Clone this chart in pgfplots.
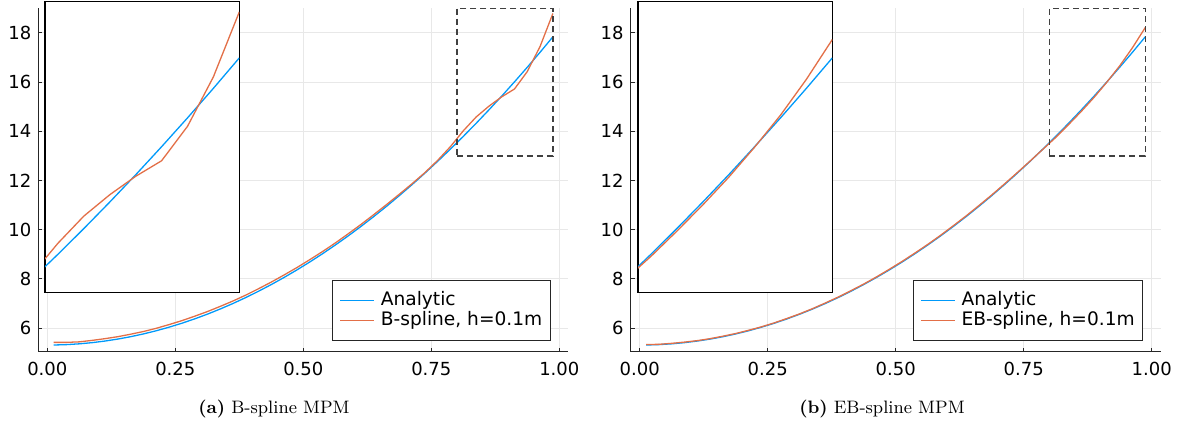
\documentclass[border=0pt]{standalone}
\usepackage{fontspec}
\usepackage{pgfplots}
\usepackage{pgfplotstable}
\pgfplotsset{compat=1.18}
\newfontfamily\dejavu{DejaVu Sans}
\definecolor{cblue}{RGB}{0,154,250}
\definecolor{corange}{RGB}{227,111,71}

\pgfplotstableread{
x ana bsp ebsp
0.0125 5.312 5.42 5.33
0.0375 5.328 5.42 5.34
0.0625 5.360 5.44 5.38
0.0875 5.408 5.50 5.43
0.1125 5.473 5.57 5.49
0.1375 5.553 5.65 5.57
0.1625 5.649 5.75 5.67
0.1875 5.762 5.86 5.78
0.2125 5.890 5.99 5.91
0.2375 6.035 6.14 6.05
0.2625 6.195 6.30 6.21
0.2875 6.372 6.48 6.39
0.3125 6.565 6.67 6.58
0.3375 6.774 6.88 6.79
0.3625 6.999 7.10 7.02
0.3875 7.240 7.34 7.26
0.4125 7.497 7.60 7.52
0.4375 7.770 7.87 7.79
0.4625 8.059 8.16 8.08
0.4875 8.364 8.46 8.39
0.5125 8.685 8.78 8.71
0.5375 9.022 9.11 9.05
0.5625 9.376 9.46 9.40
0.5875 9.745 9.83 9.77
0.6125 10.131 10.21 10.16
0.6375 10.532 10.61 10.56
0.6625 10.950 11.02 10.98
0.6875 11.384 11.44 11.41
0.7125 11.833 11.87 11.86
0.7375 12.299 12.32 12.32
0.7625 12.781 12.82 12.79
0.7875 13.279 13.38 13.27
0.8125 13.793 14.02 13.75
0.8375 14.323 14.58 14.27
0.8625 14.869 15.02 14.81
0.8875 15.431 15.40 15.38
0.9125 16.010 15.72 16.00
0.9375 16.604 16.43 16.66
0.9625 17.214 17.45 17.40
0.9875 17.841 18.79 18.22
}\data

\pgfplotsset{
  mainax/.style={
    scale only axis, width=265pt, height=171.7pt,
    xmin=-0.0176, xmax=1.0176, ymin=5.04, ymax=19.0,
    axis lines=left, axis line style={-, line width=0.5pt, black!85},
    xtick={0,0.25,0.5,0.75,1}, xticklabels={0.00,0.25,0.50,0.75,1.00},
    ytick={6,8,10,12,14,16,18}, yticklabels={6,8,10,12,14,16,18},
    tick align=inside, major tick length=2pt,
    tick style={black!85, line width=0.5pt},
    grid=major, major grid style={black!9, line width=0.5pt},
    ticklabel style={font=\dejavu\fontsize{9}{10}\selectfont},
    xticklabel style={yshift=-1.5pt},
    legend style={at={(0.967,0.031)}, anchor=south east, draw=black!85,
      line width=0.5pt, fill=white,
      font=\dejavu\fontsize{9.3}{10}\selectfont,
      inner xsep=3.5pt, inner ysep=5pt,
      nodes={inner sep=0.5pt, text height=7pt, text depth=2pt},
      /tikz/every odd column/.append style={column sep=2.5pt}},
    legend cell align=left,
    legend image code/.code={\draw[#1, line width=0.65pt] (0pt,0pt) -- (17pt,0pt);},
  },
  insetax/.style={
    scale only axis, width=97.15pt, height=145.5pt,
    xmin=0.8, xmax=0.9875, ymin=13, ymax=19,
    ticks=none, axis line style={black, line width=0.6pt},
    axis background/.style={fill=white},
  },
  rectst/.style={black!75, line width=0.7pt, dash pattern=on 3pt off 2pt, forget plot},
}

\begin{document}
\begin{tikzpicture}
\useasboundingbox (0,0) rectangle (591.5pt,215pt);

% ---- left main
\begin{axis}[mainax, at={(19.15pt,39.15pt)}, anchor=south west]
\addplot[cblue, line width=0.65pt] table[x=x, y=ana] {\data};
\addlegendentry{Analytic}
\addplot[corange, line width=0.65pt] table[x=x, y=bsp] {\data};
\addlegendentry{B-spline, h=0.1m}
\addplot[rectst] coordinates {(0.8,13) (0.9875,13) (0.9875,19) (0.8,19) (0.8,13)};
\end{axis}
\begin{axis}[insetax, at={(22.5pt,68.65pt)}, anchor=south west]
\addplot[cblue, line width=0.65pt] table[x=x, y=ana] {\data};
\addplot[corange, line width=0.65pt] table[x=x, y=bsp] {\data};
\end{axis}

% ---- right main
\begin{axis}[mainax, at={(315.35pt,39.15pt)}, anchor=south west]
\addplot[cblue, line width=0.65pt] table[x=x, y=ana] {\data};
\addlegendentry{Analytic}
\addplot[corange, line width=0.65pt] table[x=x, y=ebsp] {\data};
\addlegendentry{EB-spline, h=0.1m}
\addplot[rectst] coordinates {(0.8,13) (0.9875,13) (0.9875,19) (0.8,19) (0.8,13)};
\end{axis}
\begin{axis}[insetax, at={(319pt,68.65pt)}, anchor=south west]
\addplot[cblue, line width=0.65pt] table[x=x, y=ana] {\data};
\addplot[corange, line width=0.65pt] table[x=x, y=ebsp] {\data};
\end{axis}

\node[anchor=base, font=\fontsize{9}{11}\selectfont] at (137pt,8.3pt) {\textbf{(a)} B-spline MPM};
\node[anchor=base, font=\fontsize{9}{11}\selectfont] at (441pt,8.3pt) {\textbf{(b)} EB-spline MPM};
\end{tikzpicture}
\end{document}
